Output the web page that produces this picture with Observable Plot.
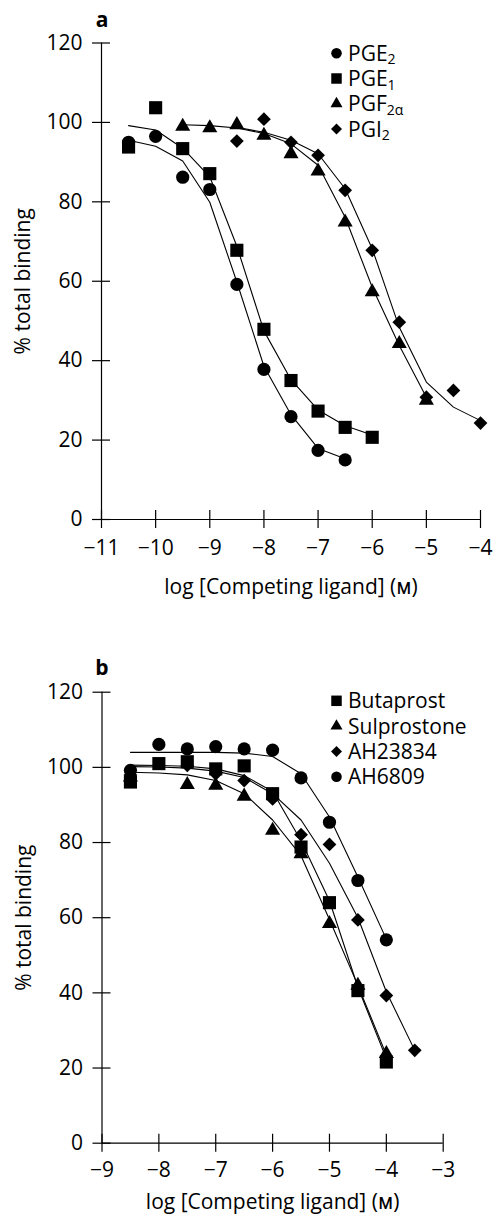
<!DOCTYPE html>
<html><head><meta charset="utf-8">
<script src="https://cdn.jsdelivr.net/npm/d3@7"></script>
<script src="https://cdn.jsdelivr.net/npm/@observablehq/plot@0.6"></script>
<style>
body{margin:0;background:#fff;}
#page{position:relative;width:493px;height:1214px;font-family:'Open Sans',sans-serif;background:#fff;}
#page > svg{display:block;}
#overlay{position:absolute;left:0;top:0;pointer-events:none;}
</style></head><body><div id="page"></div>
<script>
// ---------- shared ----------
const yTicks = [0, 20, 40, 60, 80, 100, 120];
const yDomain = [0, 120];
const yLabel = "% total binding";
const xLabel = "log [Competing ligand] (\u1D0D)";

// ---------- panel a ----------
const xDomainA = [-11, -4];
const xTicksA = [-11, -10, -9, -8, -7, -6, -5, -4];
const namesA = ["PGE2", "PGE1", "PGF2α", "PGI2"];

const pge2X = [-10.5, -10, -9.5, -9, -8.5, -8, -7.5, -7, -6.5];
const pge2Y = [95.0, 96.5, 86.2, 83.1, 59.2, 37.8, 25.9, 17.4, 15.0];
const pge2Fit = [95.5, 94.0, 90.3, 79.9, 59.8, 38.6, 26.4, 17.9, 15.3];

const pge1X = [-10.5, -10, -9.5, -9, -8.5, -8, -7.5, -7, -6.5, -6];
const pge1Y = [93.8, 103.7, 93.4, 87.1, 67.8, 47.9, 35.0, 27.3, 23.2, 20.7];
const pge1Fit = [99.2, 98.1, 93.5, 86.3, 68.8, 47.5, 35.2, 27.6, 23.6, 21.3];

const pgf2aX = [-9.5, -9, -8.5, -8, -7.5, -7, -6.5, -6, -5.5, -5];
const pgf2aY = [99.0, 98.6, 99.4, 96.7, 92.1, 87.7, 74.9, 57.3, 44.3, 30.0];
const pgf2aFit = [99.4, 99.2, 98.6, 97.2, 94.6, 89.2, 76.1, 58.5, 43.8, 30.8];

const pgi2X = [-8.5, -8, -7.5, -7, -6.5, -6, -5.5, -5, -4.5, -4];
const pgi2Y = [95.3, 100.8, 95.0, 91.7, 82.9, 67.8, 49.7, 30.8, 32.5, 24.3];
const pgi2Fit = [98.8, 97.5, 95.5, 92.1, 83.3, 68.2, 48.4, 34.6, 28.3, 24.9];

// ---------- panel b ----------
const xDomainB = [-9, -3];
const xTicksB = [-9, -8, -7, -6, -5, -4, -3];
const namesB = ["Butaprost", "Sulprostone", "AH23834", "AH6809"];

const butaX = [-8.5, -8, -7.5, -7, -6.5, -6, -5.5, -5, -4.5, -4];
const butaY = [96.1, 101.0, 101.5, 99.6, 100.4, 93.0, 78.8, 64.0, 40.6, 21.6];
const butaFit = [100.6, 100.5, 100.3, 99.6, 97.8, 93.6, 80.5, 64.5, 41.5, 22.5];

const sulX = [-8.5, -7.5, -7, -6.5, -6, -5.5, -5, -4.5, -4];
const sulY = [97.4, 95.4, 95.2, 92.3, 83.2, 77.0, 58.4, 42.0, 23.8];
const sulFitX = [-8.5, -8, -7.5, -7, -6.5, -6, -5.5, -5, -4.5, -4];
const sulFit = [98.7, 98.5, 98.0, 96.5, 93.0, 86.0, 76.5, 59.5, 42.0, 23.5];

const ahaX = [-8.5, -7.5, -7, -6.5, -6, -5.5, -5, -4.5, -4, -3.5];
const ahaY = [98.0, 100.5, 98.3, 96.5, 91.6, 82.1, 79.5, 59.4, 39.3, 24.7];
const ahaFitX = [-8.5, -8, -7.5, -7, -6.5, -6, -5.5, -5, -4.5, -4, -3.5];
const ahaFit = [100.2, 100.1, 99.8, 99.0, 97.3, 93.0, 86.0, 74.5, 60.0, 40.3, 24.7];

const ah68X = [-8.5, -8, -7.5, -7, -6.5, -6, -5.5, -5, -4.5, -4];
const ah68Y = [99.2, 106.1, 104.9, 105.5, 104.9, 104.6, 97.2, 85.4, 69.9, 54.1];
const ah68Fit = [104.0, 104.0, 104.0, 104.0, 103.8, 102.9, 98.3, 86.8, 70.8, 54.3];

// ---------- symbols ----------
const SYM = {
  circle: {sym: d3.symbolCircle, r: 6.6},
  square: {sym: d3.symbolSquare, r: 7.4},
  triangle: {sym: d3.symbolTriangle, r: 5.6},
  diamond: {sym: d3.symbolDiamond2 || d3.symbolSquare, r: 6.2}
};

const seriesA = [
  {x: pge2X, y: pge2Y, fitX: pge2X, fit: pge2Fit, s: "circle"},
  {x: pge1X, y: pge1Y, fitX: pge1X, fit: pge1Fit, s: "square"},
  {x: pgf2aX, y: pgf2aY, fitX: pgf2aX, fit: pgf2aFit, s: "triangle"},
  {x: pgi2X, y: pgi2Y, fitX: pgi2X, fit: pgi2Fit, s: "diamond"}
];
const seriesB = [
  {x: butaX, y: butaY, fitX: butaX, fit: butaFit, s: "square"},
  {x: sulX, y: sulY, fitX: sulFitX, fit: sulFit, s: "triangle"},
  {x: ahaX, y: ahaY, fitX: ahaFitX, fit: ahaFit, s: "diamond"},
  {x: ah68X, y: ah68Y, fitX: ah68X, fit: ah68Fit, s: "circle"}
];

const FONT = "'Open Sans', 'Noto Sans', sans-serif";

function panel({xDomain, xTicks, series, height, mt, mb, ml, mr, xTickPad, xLabelOffset}) {
  const marks = [
    Plot.ruleY([yDomain[0]], {stroke: "black", strokeWidth: 1.2}),
    Plot.ruleX([xDomain[0]], {stroke: "black", strokeWidth: 1.2}),
    Plot.axisY({ticks: yTicks, tickSize: 18, dx: 9, fill: "none", label: null, stroke: "black", strokeWidth: 1.2}),
    Plot.axisX({ticks: xTicks, tickSize: 18, dy: -9, fill: "none", label: null, stroke: "black", strokeWidth: 1.2}),
    Plot.axisY({ticks: yTicks, tickSize: 0, tickPadding: 19, tickFormat: d3.format("d"), fontSize: 21,
      label: yLabel, labelAnchor: "center", labelOffset: 86, labelArrow: "none", fill: "black"}),
    Plot.axisX({ticks: xTicks, tickSize: 0, tickPadding: xTickPad, tickFormat: d3.format("d"), fontSize: 21,
      label: xLabel, labelAnchor: "center", labelOffset: xLabelOffset, labelArrow: "none", fill: "black"})
  ];
  for (const s of series) {
    const fitData = s.fitX.map((x, i) => ({x, y: s.fit[i]}));
    marks.push(Plot.line(fitData, {x: "x", y: "y", stroke: "black", strokeWidth: 1.1}));
  }
  for (const s of series) {
    const pts = s.x.map((x, i) => ({x, y: s.y[i]}));
    marks.push(Plot.dot(pts, {x: "x", y: "y", symbol: SYM[s.s].sym, r: SYM[s.s].r, fill: "black", stroke: "none"}));
  }
  return Plot.plot({
    width: 493, height,
    marginTop: mt, marginBottom: mb, marginLeft: ml, marginRight: mr,
    x: {domain: xDomain},
    y: {domain: yDomain},
    style: {fontFamily: FONT, fontSize: "23px", color: "black", background: "white", overflow: "visible"},
    marks
  });
}

const page = document.getElementById("page");
page.appendChild(panel({xDomain: xDomainA, xTicks: xTicksA, series: seriesA, height: 600,
  mt: 42.5, mb: 81, ml: 101, mr: 13, xTickPad: 21, xLabelOffset: 74}));
page.appendChild(panel({xDomain: xDomainB, xTicks: xTicksB, series: seriesB, height: 614,
  mt: 91.7, mb: 71.3, ml: 101.5, mr: 50.3, xTickPad: 19, xLabelOffset: 66}));

// ---------- overlay: panel letters and legends ----------
const ov = d3.select(page).append("svg").attr("id", "overlay")
  .attr("width", 493).attr("height", 1214)
  .style("font-family", FONT);

ov.append("text").attr("x", 102).attr("y", 26.7).attr("text-anchor", "middle")
  .attr("font-weight", "bold").attr("font-size", 21).text("a");
ov.append("text").attr("x", 102).attr("y", 675).attr("text-anchor", "middle")
  .attr("font-weight", "bold").attr("font-size", 21).text("b");

function legend(entries, symbols, top) {
  entries.forEach((name, i) => {
    const base = top + i * 25.3;
    const sym = SYM[symbols[i]];
    const size = Math.PI * Math.pow(sym.r * 0.8, 2);
    ov.append("path").attr("d", d3.symbol(sym.sym, size)())
      .attr("transform", `translate(336.5,${base - 7.5})`).attr("fill", "black");
    const t = ov.append("text").attr("x", 348).attr("y", base).attr("font-size", 21);
    const m = name.match(/^(PG[EFI])(.*)$/);
    if (m) {
      t.append("tspan").text(m[1]);
      t.append("tspan").attr("font-size", 14).attr("dy", 3.5).text(m[2]);
    } else {
      t.text(name);
    }
  });
}
legend(namesA, seriesA.map(s => s.s), 60.7);
legend(namesB, seriesB.map(s => s.s), 708.3);
</script></body></html>
